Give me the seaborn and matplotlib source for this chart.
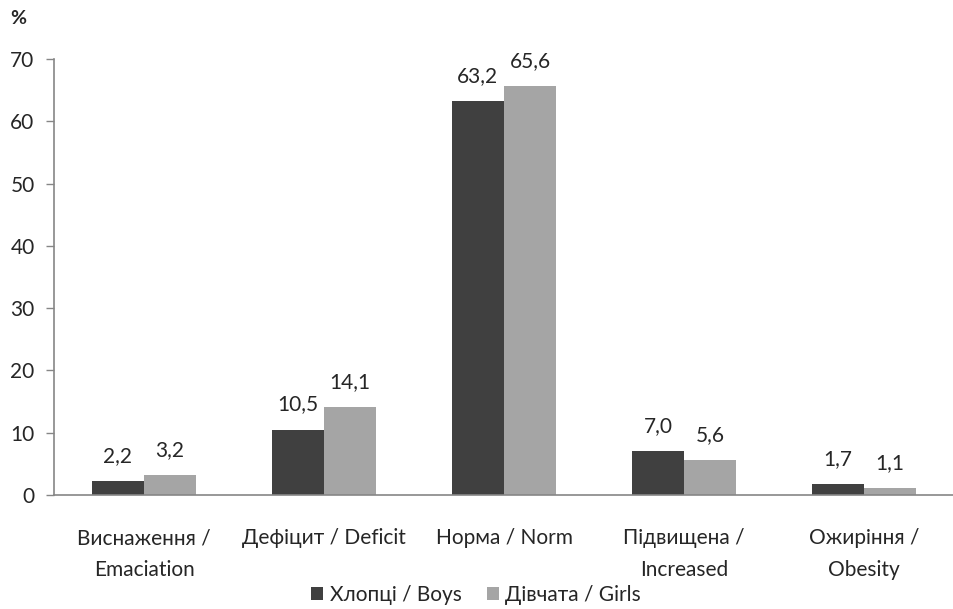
import numpy as np
import pandas as pd
import matplotlib
matplotlib.use("Agg")
import matplotlib.pyplot as plt
from matplotlib.ticker import FixedLocator
import seaborn as sns

categories = ["Виснаження /\nEmaciation", "Дефіцит / Deficit", "Норма / Norm",
              "Підвищена /\nIncreased", "Ожиріння /\nObesity"]
boys = [2.2, 10.5, 63.2, 7.0, 1.7]
girls = [3.2, 14.1, 65.6, 5.6, 1.1]
series = ["Хлопці / Boys", "Дівчата / Girls"]
yticks = [0, 10, 20, 30, 40, 50, 60, 70]

df = pd.DataFrame({
    "category": categories * 2,
    "value": boys + girls,
    "group": [series[0]] * len(categories) + [series[1]] * len(categories),
})

sns.set_theme(style="white")
plt.rcParams["font.family"] = ["Lato", "DejaVu Sans"]
text_color = "#262626"
axis_color = "#868686"
fs = 15

fig = plt.figure(figsize=(9.54, 6.09), dpi=100)
ax = fig.add_axes([54 / 954, 1 - 495 / 609, 1 - 54 / 954, (495 - 59) / 609])

sns.barplot(data=df, x="category", y="value", hue="group", order=categories,
            hue_order=series, palette=["#404040", "#a5a5a5"], width=0.58,
            saturation=1, linewidth=0, ax=ax, legend=True)

for cont in ax.containers:
    ax.bar_label(cont, labels=[f"{b.get_height():.1f}".replace(".", ",") for b in cont],
                 padding=11, fontsize=fs, color=text_color)

ax.set_xlim(-0.5, len(categories) - 0.5)
ax.set_ylim(0, 70)
ax.set_yticks(yticks)
ax.set_yticklabels([str(t) for t in yticks], fontsize=fs, color=text_color)
ax.set_xlabel("")
ax.set_ylabel("")
ax.tick_params(axis="x", which="major", length=0, pad=24, labelsize=fs, labelcolor=text_color)
ax.set_xticklabels(categories, fontsize=fs, color=text_color, linespacing=1.7, va="top")
ax.xaxis.set_minor_locator(FixedLocator(np.arange(-0.5, len(categories), 1.0)))
ax.tick_params(axis="x", which="minor", length=6, width=1, color=axis_color, direction="out")
ax.tick_params(axis="y", which="major", length=6, width=1, color=axis_color, direction="out",
               left=True, pad=8)

for side in ("top", "right"):
    ax.spines[side].set_visible(False)
for side in ("left", "bottom"):
    ax.spines[side].set_color(axis_color)
    ax.spines[side].set_linewidth(1.2)

handles, labels = ax.get_legend_handles_labels()
ax.get_legend().remove()
fig.legend(handles, labels, loc="center", bbox_to_anchor=(476 / 954, 1 - 595 / 609),
           ncol=2, frameon=False, fontsize=fs, handlelength=0.6, handleheight=0.6,
           handletextpad=0.3, columnspacing=1.2, labelcolor=text_color)

fig.text(10 / 954, 1 - 18 / 609, "%", fontsize=fs - 1, fontweight="bold", color=text_color,
         va="center", ha="left")

fig.savefig("out.png", dpi=100, facecolor="white")
